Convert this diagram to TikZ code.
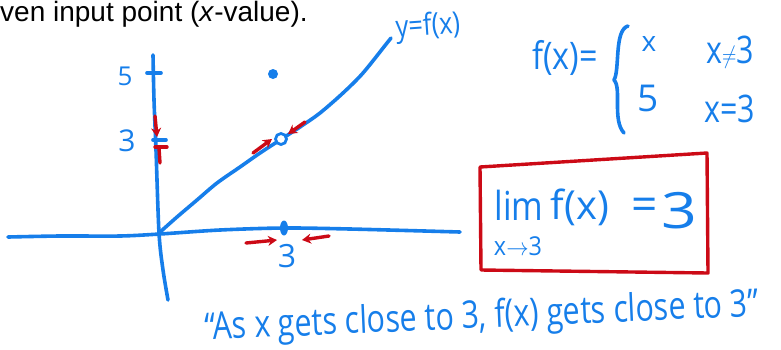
\documentclass[tikz,border=0pt]{standalone}
\usepackage{fontspec}
\setmainfont{Liberation Sans}
\newfontfamily\hand{Open Sans}
\usetikzlibrary{arrows.meta,shapes.geometric}
\definecolor{pen}{RGB}{22,126,234}
\definecolor{redpen}{RGB}{204,10,22}
\tikzset{
  bl/.style={draw=pen, line width=3.6pt, line cap=round, line join=round},
  rd/.style={draw=redpen, line width=3.4pt, line cap=round, -{Stealth[length=9pt,width=10pt]}},
  rdline/.style={draw=redpen, line width=3.4pt, line cap=round},
  hw/.style={text=pen, inner sep=0pt, font=\hand},
}
\newcommand{\hs}[1]{\hand\fontsize{#1}{#1}\selectfont}
\begin{document}
\begin{tikzpicture}[x=1pt,y=-1pt]
\useasboundingbox (0,0) rectangle (781,349);
% top text
\node[anchor=base west, inner sep=0pt, font=\fontsize{28}{32}\selectfont] (top) at (0,21) {ven input point (\textit{x}-value).};
% axes
\draw[bl] plot[smooth] coordinates {(153,55) (154,100) (156,150) (159,233) (163,270) (168,300)};
\draw[bl] plot[smooth] coordinates {(8,237) (60,236) (120,236) (160,234) (220,230) (284,228) (350,229) (460,232)};
% graph of f
\draw[bl] plot[smooth] coordinates {(159,233) (177,217) (197,200) (217,183) (240,167) (260,153) (280,140) (300,127) (320,113) (343,93) (363,73) (387,43) (391,38)};
% ticks
\coordinate (t5a) at (147,73); \coordinate (t5b) at (161,73);
\draw[bl] (t5a) -- (t5b);
\coordinate (t3a) at (153,140); \coordinate (t3b) at (166,140);
\draw[bl] (t3a) -- (t3b);
% open circle and dot
\node[circle, draw=pen, line width=2.8pt, fill=white, minimum size=11pt, inner sep=0pt] (open) at (281,139) {};
\node[circle, fill=pen, minimum size=10pt, inner sep=0pt] (dot) at (273,74) {};
\node[ellipse, fill=pen, minimum width=8pt, minimum height=15pt, inner sep=0pt] (xt) at (284,228) {};
% labels
\node[hw, font=\hs{26}] (l5) at (125,76) {5};
\node[hw, font=\hs{30}] (l3y) at (127,141) {3};
\node[hw, font=\hs{32}] (l3x) at (287,256) {3};
\node[hw, font=\hs{30}, rotate=4] (yfx) at (428,27) {\scalebox{0.85}[1]{y=f(x)}};
% red arrows
\coordinate (ra1) at (155,116); \coordinate (ra1e) at (157,137);
\draw[rd] (ra1) -- (ra1e);
\coordinate (ra2) at (160,163); \coordinate (ra2e) at (159,148);
\draw[rdline] (ra2) -- (ra2e);
\coordinate (ra2l) at (155,147); \coordinate (ra2r) at (167,147);
\draw[rdline] (ra2l) -- (ra2r);
\coordinate (ra3) at (253,153); \coordinate (ra3e) at (272,139);
\draw[rd] (ra3) -- (ra3e);
\coordinate (ra4) at (305,122); \coordinate (ra4e) at (288,134);
\draw[rd] (ra4) -- (ra4e);
\coordinate (ra5) at (246,243); \coordinate (ra5e) at (277,240);
\draw[rd] (ra5) -- (ra5e);
\coordinate (ra6) at (329,236); \coordinate (ra6e) at (302,240);
\draw[rd] (ra6) -- (ra6e);
% piecewise definition
\node[hw, font=\hs{38}] (fx) at (565,58) {\scalebox{0.85}[1]{f(x)=}};
\coordinate (b1) at (628,26); \coordinate (b2) at (614,80); \coordinate (b3) at (624,133);
\draw[bl] (b1) .. controls (614,30) and (620,70) .. (b2) .. controls (622,88) and (612,120) .. (b3);
\node[hw, font=\hs{28}] (cx) at (649,44) {x};
\node[hw, font=\hs{38}] (cne) at (730,52) {\scalebox{0.8}[1]{x$\neq$3}};
\node[hw, font=\hs{37}] (c5) at (648,98) {5};
\node[hw, font=\hs{38}] (ceq) at (730,109) {\scalebox{0.8}[1]{x=3}};
% limit box
\coordinate (r1) at (480,167); \coordinate (r2) at (707,153); \coordinate (r3) at (708,273); \coordinate (r4) at (481,270);
\draw[draw=redpen, line width=3.4pt, line join=round] (r1) -- (r2) -- (r3) -- (r4) -- cycle;
\node[hw, font=\hs{40}] (lim) at (519,205) {\scalebox{0.85}[1]{lim}};
\node[hw, font=\hs{40}] (lfx) at (580,207) {f(x)};
\node[hw, font=\hs{46}] (leq) at (645,209) {=};
\node[hw, font=\hs{50}] (l3) at (679,211) {\scalebox{1.25}[1]{3}};
\node[hw, font=\hs{26}] (lsub) at (518,246) {\scalebox{0.9}[1]{x$\to$3}};
% quote
\node[hw, font=\hs{38}, rotate=2.5, anchor=base] (quote) at (482,328) {\scalebox{0.8}[1]{“As x gets close to 3, f(x) gets close to 3”}};
\end{tikzpicture}
\end{document}
